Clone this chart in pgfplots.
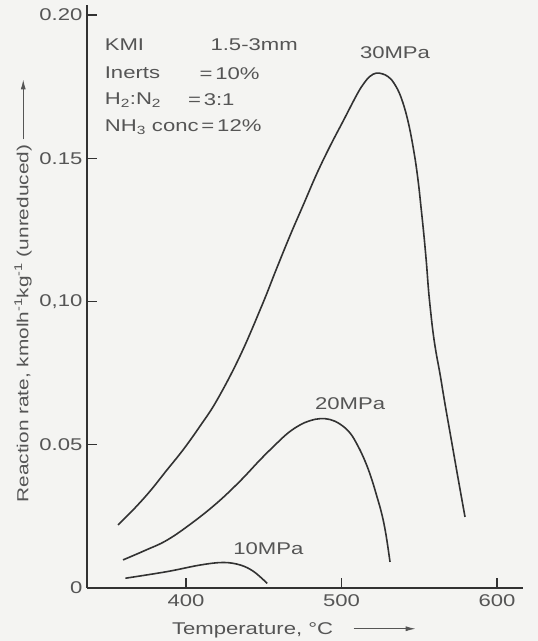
\documentclass[border=0pt]{standalone}
\usepackage{fontspec}
\setmainfont{Liberation Sans}[FakeStretch=1.3]
\usepackage{pgfplots}
\pgfplotsset{compat=1.18}
\usetikzlibrary{arrows.meta}
\definecolor{bg}{RGB}{244,244,242}
\definecolor{txt}{RGB}{85,85,85}
\definecolor{ln}{RGB}{50,50,50}
\begin{document}
\begin{tikzpicture}[font=\fontsize{17}{20}\selectfont]
\fill[bg] (0,0) rectangle (538pt,641pt);
\begin{axis}[
  at={(87pt,53pt)}, anchor=south west,
  scale only axis, width=436pt, height=583pt,
  xmin=336.3, xmax=616.7, ymin=0, ymax=0.2035,
  axis lines=left,
  axis line style={-, ln, line width=1.3pt},
  tick style={ln, line width=1.2pt},
  tick align=inside, major tick length=10pt,
  xtick={400,500,600}, xticklabels={400,500,600},
  ytick={0,0.05,0.1,0.15,0.2}, yticklabels={0,0.05,{0,10},0.15,0.20},
  ticklabel style={txt},
  xticklabel style={yshift=-3pt},
  yticklabel style={xshift=-1pt},
  xlabel={Temperature, °C\hspace{20pt}\tikz[baseline=-0.6ex]\draw[-{Latex[length=10pt,width=5pt]},line width=1pt,txt] (0,0)--(62pt,0);},
  xlabel style={at={(rel axis cs:0.475,0)}, anchor=center, yshift=-42pt, txt},
  ylabel={Reaction rate, kmolh\textsuperscript{-1}kg\textsuperscript{-1} (unreduced)\hspace{5pt}\tikz[baseline=-0.6ex]\draw[-{Latex[length=10pt,width=5pt]},line width=1pt,txt] (0,0)--(60pt,0);},
  ylabel style={at={(rel axis cs:0,0.51)}, anchor=center, yshift=64pt, txt, font=\fontsize{16}{19}\selectfont},
  clip=false,
]
\addplot[ln, line width=1.6pt, smooth, tension=0.65] coordinates {
(356.27,0.0220) (366.56,0.0276) (376.85,0.0338) (387.14,0.0408) (398.07,0.0482) (409.00,0.0565)
(419.94,0.0656) (434.73,0.0810) (448.87,0.0987) (457.88,0.1110) (466.88,0.1230) (475.88,0.1343)
(484.24,0.1448) (492.60,0.1542) (500.96,0.1629) (509.97,0.1723) (514.47,0.1762) (518.33,0.1786)
(522.19,0.1797) (526.05,0.1795) (529.90,0.1785) (533.76,0.1762) (538.26,0.1713) (542.77,0.1629)
(546.62,0.1521) (549.20,0.1424) (551.13,0.1329) (553.05,0.1228) (554.66,0.1131) (555.95,0.1040)
(557.23,0.0970) (558.84,0.0893) (560.77,0.0823) (563.34,0.0747) (566.56,0.0642) (570.42,0.0523)
(574.92,0.0384) (579.42,0.0248)
};
\addplot[ln, line width=1.6pt, smooth, tension=0.65] coordinates {
(359.49,0.0098) (373.63,0.0131) (387.78,0.0167) (403.86,0.0227) (419.94,0.0297) (434.73,0.0373)
(447.59,0.0447) (457.23,0.0499) (465.59,0.0541) (473.31,0.0569) (479.74,0.0584) (486.17,0.0591)
(492.60,0.0588) (499.04,0.0572) (505.47,0.0541) (510.61,0.0495) (515.11,0.0443) (518.97,0.0387)
(522.83,0.0318) (526.05,0.0255) (528.62,0.0185) (531.19,0.0091)
};
\addplot[ln, line width=1.6pt, smooth, tension=0.6] coordinates {
(361,0.0034) (387.7,0.0057) (409,0.0080) (424,0.0089) (435,0.0080) (443.6,0.0057) (452.2,0.0016)
};
\node[txt] at (axis cs:534.4,0.1867) {30MPa};
\node[txt] at (axis cs:505.5,0.0644) {20MPa};
\node[txt] at (axis cs:452.9,0.0139) {10MPa};
\node[txt, anchor=west] at (axis cs:345.5,0.1895) {KMI};
\node[txt, anchor=west] at (axis cs:413.5,0.1895) {1.5-3mm};
\node[txt, anchor=west] at (axis cs:345.5,0.1797) {Inerts};
\node[txt, anchor=west] at (axis cs:406.5,0.1797) {=\,10\%};
\node[txt, anchor=west] at (axis cs:345.5,0.1703) {H\textsubscript{2}:N\textsubscript{2}};
\node[txt, anchor=west] at (axis cs:399,0.1703) {=\,3:1};
\node[txt, anchor=west] at (axis cs:345.5,0.1609) {NH\textsubscript{3} conc\,=\,12\%};
\end{axis}
\end{tikzpicture}
\end{document}
